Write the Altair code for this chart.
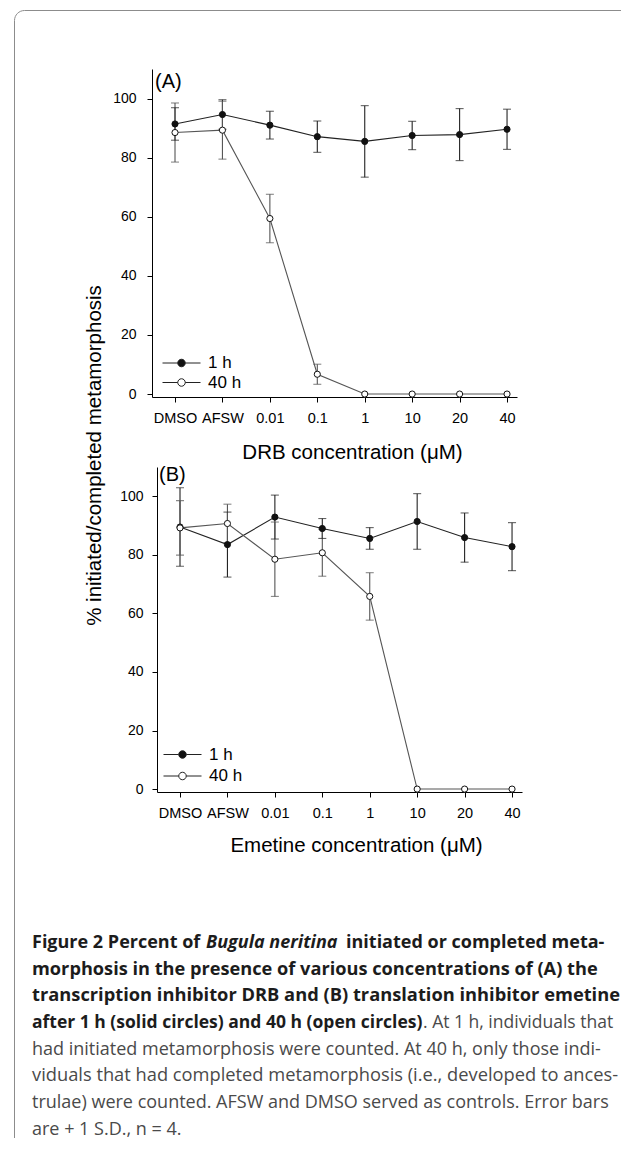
import altair as alt
import pandas as pd

# ---------------- data ----------------
cats = ["DMSO", "AFSW", "0.01", "0.1", "1", "10", "20", "40"]
series_names = ["1 h", "40 h"]
y_ticks = [0, 20, 40, 60, 80, 100]

# (A) DRB
drb_1h = [91.4, 94.6, 91.0, 87.1, 85.5, 87.5, 87.8, 89.6]
drb_1h_sd = [5.5, 5.0, 4.7, 5.3, 12.1, 4.8, 8.8, 6.8]
drb_40h = [88.5, 89.3, 59.4, 6.7, 0.0, 0.0, 0.0, 0.0]
drb_40h_sd = [10.0, 9.8, 8.2, 3.4, 0.0, 0.0, 0.0, 0.0]

# (B) Emetine
eme_1h = [89.5, 83.5, 92.9, 89.0, 85.6, 91.4, 85.9, 82.8]
eme_1h_sd = [13.4, 11.1, 7.5, 3.4, 3.7, 9.5, 8.4, 8.2]
eme_40h = [89.2, 90.7, 78.5, 80.7, 65.8, 0.0, 0.0, 0.0]
eme_40h_sd = [9.3, 6.6, 12.7, 8.0, 8.1, 0.0, 0.0, 0.0]

y_title = "% initiated/completed metamorphosis"
x_title_a = "DRB concentration (\u03bcM)"
x_title_b = "Emetine concentration (\u03bcM)"

# caption segments: (text, style, left x on page, font size)
caption_lines = [
    [("Figure 2 Percent of", "b", 30, 18), ("Bugula neritina", "bi", 204, 18),
     ("initiated or completed meta-", "b", 344, 18)],
    [("morphosis in the presence of various concentrations of (A) the", "b", 30, 18.2)],
    [("transcription inhibitor DRB and (B) translation inhibitor emetine", "b", 30, 18.3)],
    [("after 1 h (solid circles) and 40 h (open circles)", "b", 30, 17.5),
     (". At 1 h, individuals that", "r", 421, 17.5)],
    [("had initiated metamorphosis were counted. At 40 h, only those indi-", "r", 30, 18)],
    [("viduals that had completed metamorphosis (i.e., developed to ances-", "r", 30, 18.3)],
    [("trulae) were counted. AFSW and DMSO served as controls. Error bars", "r", 30, 18)],
    [("are + 1 S.D., n = 4.", "r", 30, 18)],
]

# ---------------- styling ----------------
FONT = "Liberation Sans"
CAP_FONT = "Open Sans"
X_DOMAIN = [-0.485, 7.21]
Y_DOMAIN = [-1, 110]
label_expr = "[" + ",".join("'%s'" % c for c in cats) + "][datum.value]"

LEG_PATH = ("M-3.8,0L-0.75,0M0.75,0L3.8,0"
            "M0.75,0A0.75,0.75,0,1,1,-0.75,0A0.75,0.75,0,1,1,0.75,0Z")

# page frame (pixel path relative to panel A origin, which sits at page (150, 67))
R = 10
FL, FT, FR, FB = -137.5, -58.5, 469.0, 1069
FRAME = f"M{FL},{FB}L{FL},{FT + R}A{R},{R},0,0,1,{FL + R},{FT}L{FR},{FT}"


def build_df(v1, s1, v40, s40):
    rows = []
    for name, vals, sds in ((series_names[0], v1, s1), (series_names[1], v40, s40)):
        for i, (c, v, s) in enumerate(zip(cats, vals, sds)):
            rows.append(dict(idx=i, cat=c, series=name, grp="g" + name, value=v, sd=s,
                             lo=v - s, hi=v + s))
    return pd.DataFrame(rows)


def make_panel(v1, s1, v40, s40, *, width, height, x_range, y_offset, y_label_pad,
               letter, letter_xy, x_title, x_title_xy, legend_xy, legend_row_pad,
               show_y_title=False, frame=False):
    df = build_df(v1, s1, v40, s40)
    err = df[df["sd"] > 0]

    xs = alt.Scale(domain=X_DOMAIN, range=x_range, nice=False, zero=False)
    ys = alt.Scale(domain=Y_DOMAIN, nice=False, zero=False)
    xax = alt.Axis(values=list(range(len(cats))), labelExpr=label_expr, labelOverlap=False,
                   title=x_title, titleX=x_title_xy[0], titleY=x_title_xy[1],
                   titleBaseline="middle", titleAlign="center")
    if show_y_title:
        yax = alt.Axis(values=y_ticks, labelPadding=y_label_pad, offset=y_offset,
                       title=y_title, titleX=-57.5, titleY=386, titleAngle=270,
                       titleBaseline="middle", titleAlign="center")
    else:
        yax = alt.Axis(values=y_ticks, labelPadding=y_label_pad, offset=y_offset, title=None)

    x = alt.X("idx:Q", scale=xs, axis=xax)
    col = alt.Color("grp:N", scale=alt.Scale(domain=["g1 h", "g40 h"], range=["#222222", "#555555"]),
                    legend=None)

    bars = alt.Chart(err).mark_rule(strokeWidth=1.1).encode(
        x=x, y=alt.Y("lo:Q", scale=ys, axis=yax), y2="hi:Q", color=col)
    cap_hi = alt.Chart(err).mark_tick(orient="horizontal", size=8, thickness=1.1).encode(
        x=x, y=alt.Y("hi:Q", scale=ys, axis=yax), color=col)
    cap_lo = alt.Chart(err).mark_tick(orient="horizontal", size=8, thickness=1.1).encode(
        x=x, y=alt.Y("lo:Q", scale=ys, axis=yax), color=col)
    line = alt.Chart(df).mark_line(strokeWidth=1.1).encode(
        x=x, y=alt.Y("value:Q", scale=ys, axis=yax), color=col, order="idx:Q")
    pts = alt.Chart(df).mark_point(size=38, stroke="#111111", strokeWidth=1,
                                   opacity=1, fillOpacity=1).encode(
        x=x, y=alt.Y("value:Q", scale=ys, axis=yax),
        fill=alt.Fill("series:N",
                      scale=alt.Scale(domain=series_names, range=["#111111", "#ffffff"]),
                      legend=alt.Legend(orient="none", legendX=legend_xy[0], legendY=legend_xy[1],
                                        title=None, symbolType=LEG_PATH, symbolSize=100,
                                        symbolStrokeColor="#222222", symbolStrokeWidth=1,
                                        labelFont=FONT, labelFontSize=17, labelColor="black",
                                        labelOffset=18, rowPadding=legend_row_pad, padding=0,
                                        direction="vertical")),
        order=alt.Order("series:N"))
    letter_layer = alt.Chart(pd.DataFrame({"t": [letter]})).mark_text(
        font=FONT, fontSize=20, align="left", baseline="middle", color="black").encode(
        text="t:N", x=alt.value(letter_xy[0]), y=alt.value(letter_xy[1]))

    layers = [bars, cap_hi, cap_lo, line, pts, letter_layer]
    if frame:
        frame_layer = alt.Chart(pd.DataFrame({"t": [0]})).mark_point(
            shape=FRAME, size=4, filled=False, stroke="#8c8c8c", strokeWidth=1, opacity=1).encode(
            x=alt.value(0), y=alt.value(0))
        layers = [frame_layer] + layers
    return alt.layer(*layers).properties(width=width, height=height)


panel_a = make_panel(drb_1h, drb_1h_sd, drb_40h, drb_40h_sd,
                     width=365, height=328, x_range=[0, 365], y_offset=0, y_label_pad=11,
                     letter="(A)", letter_xy=(3, 13), x_title=x_title_a, x_title_xy=(200, 55),
                     legend_xy=(21, 285.5), legend_row_pad=1.5, show_y_title=True, frame=True)

panel_b = make_panel(eme_1h, eme_1h_sd, eme_40h, eme_40h_sd,
                     width=370, height=325, x_range=[5, 370], y_offset=-5, y_label_pad=9,
                     letter="(B)", letter_xy=(7, 8), x_title=x_title_b, x_title_xy=(204, 53),
                     legend_xy=(22, 279), legend_row_pad=3.5)

# ---------------- caption ----------------
CAP_ORIGIN_X, CAP_ORIGIN_Y = 150, 860
rows = []
for li, segs in enumerate(caption_lines):
    for text, style, xpage, fs in segs:
        rows.append(dict(text=text, style=style, fs=fs, x=xpage - CAP_ORIGIN_X,
                         y=941 + 26.65 * li - CAP_ORIGIN_Y))
cap_df = pd.DataFrame(rows)

style_props = {
    "b": dict(fontWeight="bold", fontStyle="normal", color="#1c1c1c"),
    "bi": dict(fontWeight="bold", fontStyle="italic", color="#1c1c1c"),
    "r": dict(fontWeight="normal", fontStyle="normal", color="#4a4a4a"),
}
cap_layers = []
for st, props in style_props.items():
    cap_layers.append(
        alt.Chart(cap_df[cap_df["style"] == st]).mark_text(
            font=CAP_FONT, align="left", baseline="middle", **props).encode(
            text="text:N",
            size=alt.Size("fs:Q", scale=None, legend=None),
            x=alt.X("x:Q", scale=None, axis=None),
            y=alt.Y("y:Q", scale=None, axis=None)))
caption = alt.layer(*cap_layers).properties(width=466, height=260)

chart = (
    alt.vconcat(panel_a, panel_b, caption, spacing=70, bounds="flush")
    .resolve_scale(x="independent", y="independent", fill="independent", color="independent",
                   size="independent")
    .resolve_legend(fill="independent")
    .properties(padding={"left": 4, "top": 0, "right": 0, "bottom": 0}, background="white")
    .configure_view(stroke=None)
    .configure_axis(grid=False, domainColor="black", domainWidth=1, tickColor="black",
                    tickWidth=1, tickSize=5, labelFont=FONT, labelFontSize=14,
                    labelColor="black", titleFont=FONT, titleFontSize=20.5,
                    titleFontWeight="normal", titleColor="black")
    .configure_axisX(labelPadding=9, labelFontSize=14.5)
)

chart.save("out.html", embed_options={"renderer": "svg", "actions": False})
